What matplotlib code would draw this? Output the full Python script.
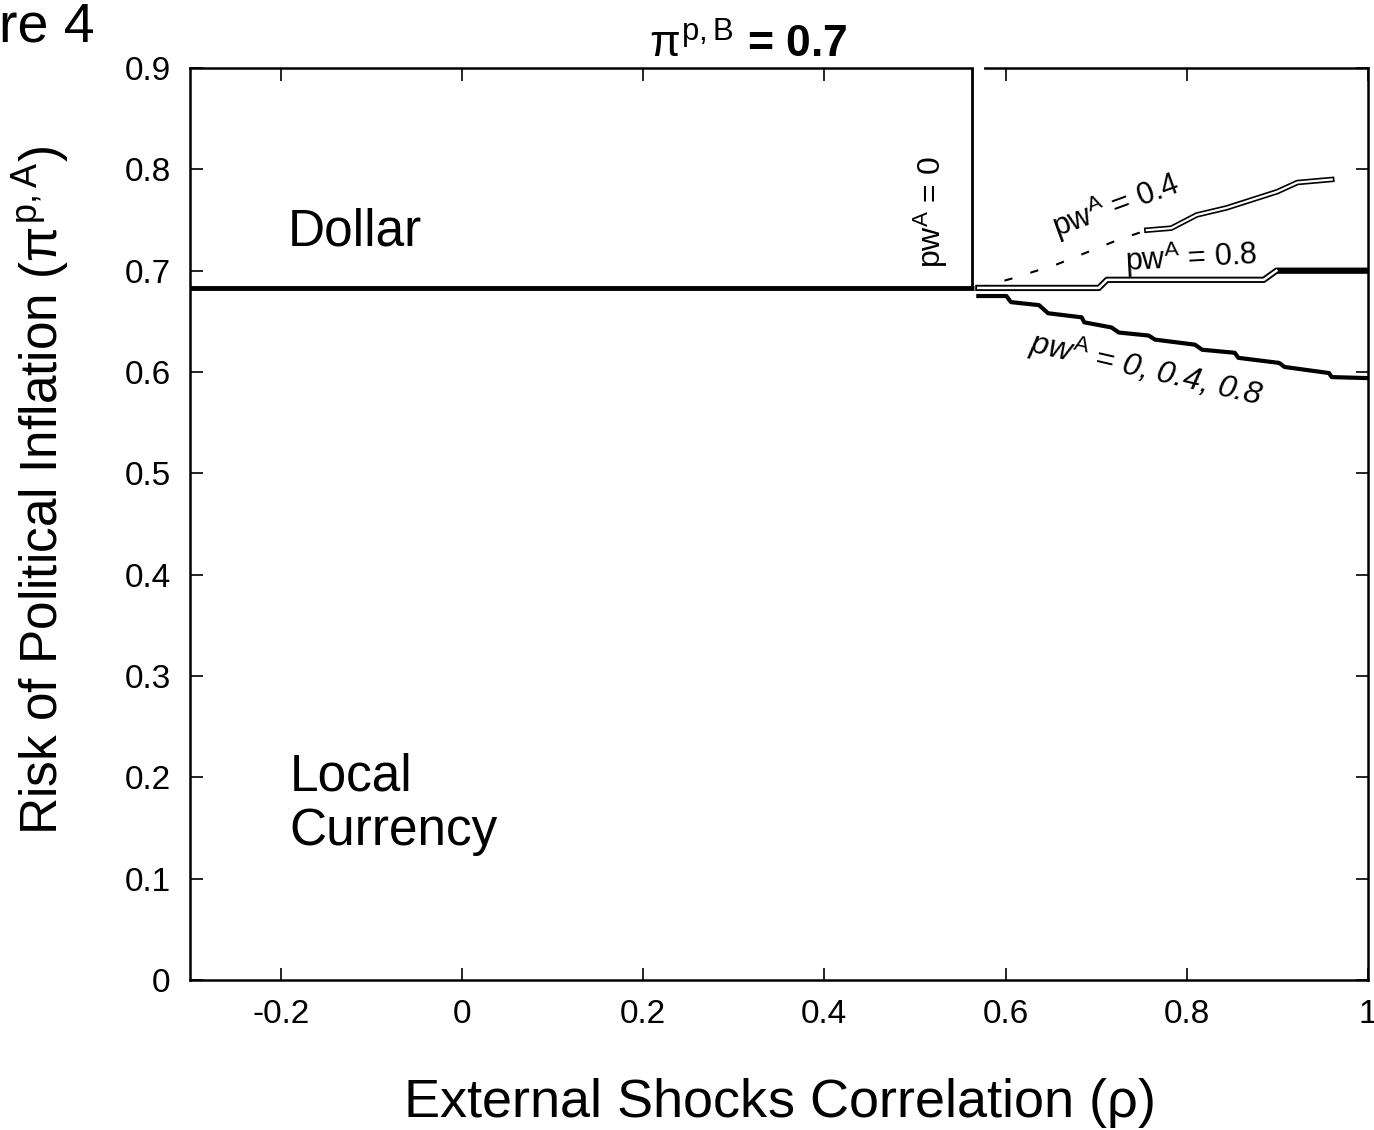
import matplotlib.pyplot as plt
import numpy as np

plt.rcParams['font.family'] = ['Liberation Sans', 'DejaVu Sans']
plt.rcParams['mathtext.fontset'] = 'custom'
plt.rcParams['mathtext.rm'] = 'Liberation Sans'
plt.rcParams['mathtext.it'] = 'Liberation Sans'

# Dati letti dalla figura
# confine dollaro / valuta locale (parte sinistra, pw^A = 0)
rho_flat = [-0.3, 0.565]
pi_flat = [0.683, 0.683]
rho_vert = [0.563, 0.563]
pi_vert = [0.683, 0.9]

# pw^A = 0.4
rho_04 = [0.570, 0.606, 0.656, 0.723, 0.756, 0.783, 0.811, 0.844, 0.872, 0.900, 0.922, 0.960]
pi_04 = [0.683, 0.692, 0.706, 0.730, 0.740, 0.742, 0.755, 0.762, 0.770, 0.778, 0.787, 0.790]

# pw^A = 0.8
rho_08 = [0.570, 0.703, 0.712, 0.885, 0.899, 1.0]
pi_08 = [0.683, 0.683, 0.691, 0.691, 0.700, 0.700]

# pw^A = 0, 0.4, 0.8 (ramo inferiore)
rho_low = [0.570, 0.601, 0.606, 0.637, 0.647, 0.684, 0.687, 0.717, 0.725, 0.758, 0.765, 0.809,
           0.817, 0.853, 0.857, 0.902, 0.908, 0.957, 0.960, 1.0]
pi_low = [0.675, 0.675, 0.669, 0.666, 0.658, 0.654, 0.649, 0.644, 0.639, 0.636, 0.632, 0.627,
          0.622, 0.619, 0.614, 0.609, 0.605, 0.599, 0.595, 0.594]

xticks = [-0.2, 0, 0.2, 0.4, 0.6, 0.8, 1]
xticklabels = ['-0.2', '0', '0.2', '0.4', '0.6', '0.8', '1']
yticks = [0, 0.1, 0.2, 0.3, 0.4, 0.5, 0.6, 0.7, 0.8, 0.9]
yticklabels = ['0', '0.1', '0.2', '0.3', '0.4', '0.5', '0.6', '0.7', '0.8', '0.9']

fig = plt.figure(figsize=(13.74, 11.3), dpi=100)
ax = fig.add_axes([0.1383, 0.1327, 0.8573, 0.8071])

# linea principale
ax.plot(rho_flat, pi_flat, color='black', linewidth=3.5, solid_capstyle='butt')
ax.plot(rho_vert, pi_vert, color='black', linewidth=2, solid_capstyle='butt')
# piccola interruzione del bordo superiore
ax.plot([0.567, 0.574], [0.9, 0.9], color='white', linewidth=3, clip_on=False, zorder=5)

# pw^A = 0.4 : linea doppia, tratteggiata all'inizio
k = 5
ax.plot(rho_04[:k], pi_04[:k], color='black', linewidth=1.5, dashes=(4, 9))
ax.plot(rho_04[k - 1:], pi_04[k - 1:], color='black', linewidth=4)
ax.plot(rho_04[k - 1:], pi_04[k - 1:], color='white', linewidth=1.6)

# pw^A = 0.8 : linea doppia, piena alla fine
ax.plot(rho_08, pi_08, color='black', linewidth=4.5)
ax.plot(rho_08[:-1], pi_08[:-1], color='white', linewidth=1.8)

# ramo inferiore
ax.plot(rho_low, pi_low, color='black', linewidth=3)

ax.set_xlim(-0.3, 1)
ax.set_ylim(0, 0.9)
ax.set_xticks(xticks)
ax.set_xticklabels(xticklabels)
ax.set_yticks(yticks)
ax.set_yticklabels(yticklabels)
ax.tick_params(direction='in', length=9, width=1.2, labelsize=24, top=True, right=True, pad=14)
for s in ax.spines.values():
    s.set_linewidth(1.8)

ax.set_xlabel(r'External Shocks Correlation ($\rho$)', fontsize=39, labelpad=33)
ax.set_ylabel(r'Risk of Political Inflation ($\pi^{p,A}$)', fontsize=37)
ax.yaxis.set_label_coords(-0.100, 0.537)

fig.text(748 / 1374, 1 - 58 / 1130, r'$\pi^{p,B}$ = 0.7', fontsize=32, fontweight='bold',
         ha='center', va='baseline')
fig.text(95 / 1374, 1 - 42 / 1130, 'Figure 4', fontsize=40, ha='right', va='baseline')

ax.text(-0.192, 0.738, 'Dollar', fontsize=37, ha='left', va='center')
ax.text(-0.19, 0.225, 'Local\nCurrency', fontsize=37, ha='left', va='top', linespacing=1.15)

ax.text(0.518, 0.758, r'pw$^A$ = 0', fontsize=23, rotation=90, ha='center', va='center')
ax.text(0.722, 0.765, r'pw$^A$ = 0.4', fontsize=22, rotation=20, ha='center', va='center')
ax.text(0.805, 0.713, r'pw$^A$ = 0.8', fontsize=22, rotation=3, ha='center', va='center')
ax.text(0.755, 0.603, r'pw$^A$ = 0, 0.4, 0.8', fontsize=23, rotation=-13, ha='center',
        va='center', style='italic')

fig.savefig('out.png', dpi=100)
